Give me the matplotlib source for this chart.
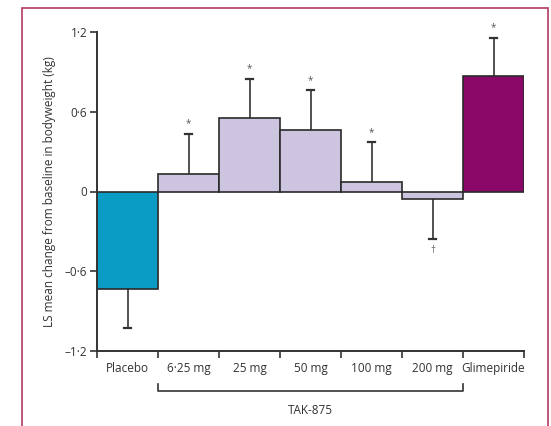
import numpy as np
import matplotlib
matplotlib.use('Agg')
from matplotlib import pyplot as plt
from matplotlib.patches import Rectangle

plt.rcParams['font.family'] = ['Open Sans', 'DejaVu Sans']

groups = ['Placebo', '6·25 mg', '25 mg', '50 mg', '100 mg', '200 mg', 'Glimepiride']
means = [-0.73, 0.135, 0.55, 0.46, 0.075, -0.06, 0.87]
errors = [0.30, 0.30, 0.30, 0.30, 0.295, 0.30, 0.285]
marks = ['', '*', '*', '*', '*', '†', '*']
colors = ['#0a9cc4', '#cdc4df', '#cdc4df', '#cdc4df', '#cdc4df', '#cdc4df', '#8a0868']
yticks = [-1.2, -0.6, 0, 0.6, 1.2]
ytick_labels = ['–1·2', '–0·6', '0', '0·6', '1·2']

fig = plt.figure(figsize=(5.51, 4.26), dpi=100)
ax = fig.add_axes([97 / 551, 1 - 351 / 426, (524 - 97) / 551, (351 - 32) / 426])

x = np.arange(len(groups)) + 0.5
ax.bar(x, means, width=1.0, color=colors, edgecolor='#2a2a2a', linewidth=1.2, zorder=2)

for xi, m, e, mk in zip(x, means, errors, marks):
    tip = m + e if m >= 0 else m - e
    ax.plot([xi, xi], [m, tip], color='#333333', lw=1.2, zorder=1)
    ax.plot([xi - 0.06, xi + 0.06], [tip, tip], color='#333333', lw=1.6, zorder=1)
    if mk == '*':
        ax.text(xi, tip + 0.035, mk, ha='center', va='bottom', fontsize=7, color='#555555')
    elif mk:
        ax.text(xi, tip - 0.04, mk, ha='center', va='top', fontsize=7, color='#555555')

ax.set_xlim(0, len(groups))
ax.set_ylim(-1.2, 1.2)
ax.set_yticks(yticks)
ax.set_yticklabels(ytick_labels)
ax.set_xticks(np.arange(len(groups) + 1))
ax.set_xticklabels([])
ax.set_xticks(x, minor=True)
ax.set_xticklabels(groups, minor=True)
ax.tick_params(axis='x', which='minor', length=0, pad=8, labelsize=8.5, labelcolor='#333333')
ax.tick_params(axis='x', which='major', length=5, width=1.2, color='#333333')
ax.tick_params(axis='y', length=5, width=1.2, color='#333333', labelsize=8.5, labelcolor='#333333', pad=2)

for s in ['top', 'right']:
    ax.spines[s].set_visible(False)
for s in ['left', 'bottom']:
    ax.spines[s].set_linewidth(1.4)
    ax.spines[s].set_color('#333333')

ax.set_ylabel('LS mean change from baseline in bodyweight (kg)', fontsize=8.5, color='#333333', labelpad=6)

# bracket for TAK-875 doses
tr = ax.get_xaxis_transform()
by = -0.125
ax.plot([1, 1, 6, 6], [by + 0.02, by, by, by + 0.02], transform=tr, color='#333333', lw=1.2, clip_on=False)
ax.text(3.5, by - 0.04, 'TAK-875', transform=tr, ha='center', va='top', fontsize=8.5, color='#333333')

# frame around the figure
fig.patches.append(Rectangle((22 / 551, -0.01), (548 - 22) / 551, 1 - 8 / 426 + 0.01,
                             transform=fig.transFigure, fill=False, edgecolor='#b23a62', lw=1.2))

fig.savefig('out.png', dpi=100)
